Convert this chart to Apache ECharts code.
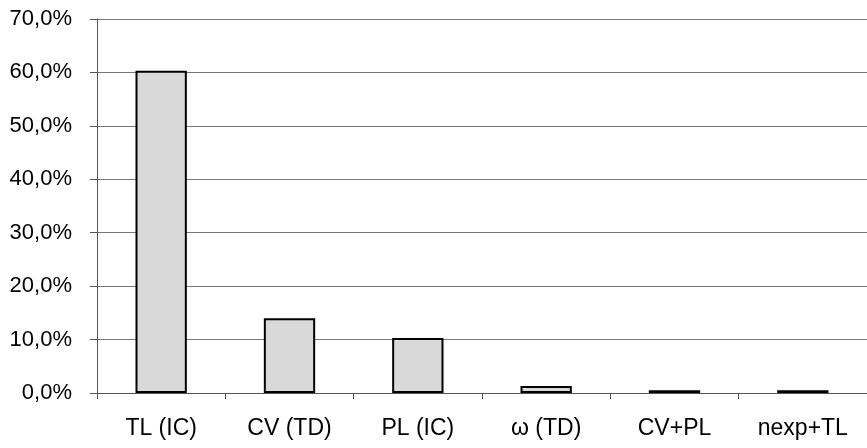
<!DOCTYPE html>
<html><head><meta charset="utf-8">
<script src="https://cdn.jsdelivr.net/npm/echarts@6/dist/echarts.min.js"></script>
<style>html,body{margin:0;padding:0;background:#fff}#c{width:867px;height:448px}</style>
</head><body><div id="c"></div>
<script>
const categories = ['TL (IC)', 'CV (TD)', 'PL (IC)', 'ω (TD)', 'CV+PL', 'nexp+TL'];
const values = [60.3, 14.0, 10.3, 1.3, 0.5, 0.5];
const yTicks = {min: 0, max: 70, interval: 10};

const chart = echarts.init(document.getElementById('c'), null, {renderer: 'canvas'});
chart.setOption({
  animation: false,
  backgroundColor: '#fff',
  grid: {left: 97, top: 19, width: 778, height: 374, containLabel: false},
  xAxis: {
    type: 'category',
    data: categories,
    boundaryGap: true,
    axisLine: {lineStyle: {color: '#555', width: 1}},
    axisTick: {show: true, length: 6, lineStyle: {color: '#555'}},
    axisLabel: {color: '#000', fontFamily: 'Liberation Sans, Arial', fontSize: 23, margin: 24}
  },
  yAxis: {
    type: 'value',
    min: yTicks.min, max: yTicks.max, interval: yTicks.interval,
    axisLine: {show: true, lineStyle: {color: '#555', width: 1}},
    axisTick: {show: true, length: 7, lineStyle: {color: '#555'}},
    splitLine: {show: true, lineStyle: {color: '#777', width: 1}},
    axisLabel: {color: '#000', fontFamily: 'Liberation Sans, Arial', fontSize: 22, margin: 25,
      formatter: v => v.toFixed(1).replace('.', ',') + '%'}
  },
  series: [{
    type: 'bar',
    data: values,
    barWidth: '40%',
    itemStyle: {color: '#d9d9d9', borderColor: '#000', borderWidth: 2}
  }]
});
</script></body></html>
